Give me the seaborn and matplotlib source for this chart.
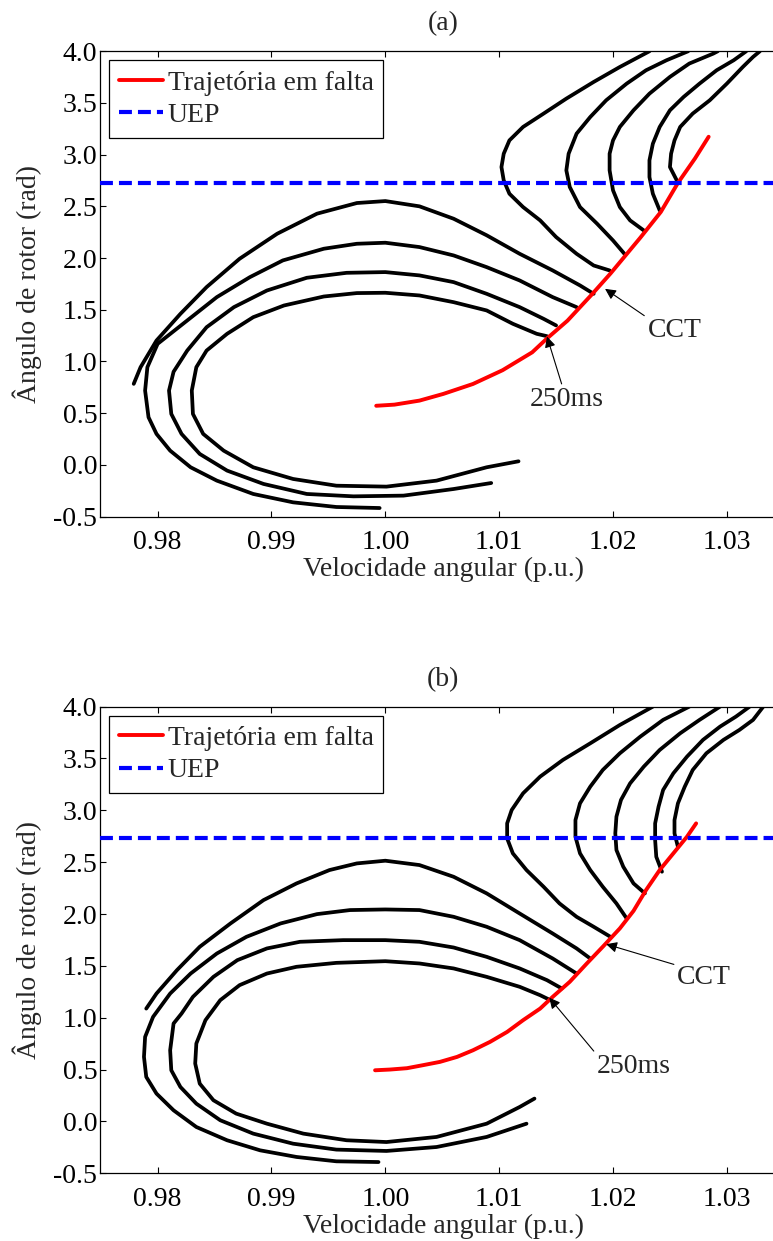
import matplotlib
matplotlib.use("Agg")
import matplotlib.pyplot as plt
from matplotlib.lines import Line2D
import pandas as pd
import seaborn as sns

sns.set_style("ticks")
plt.rcParams["font.family"] = ["Liberation Serif", "DejaVu Serif"]
plt.rcParams["axes.unicode_minus"] = False

# ---------------- data ----------------
UEP = 2.73
X_TICKS = [0.98, 0.99, 1.00, 1.01, 1.02, 1.03]
Y_TICKS = [-0.5, 0.0, 0.5, 1.0, 1.5, 2.0, 2.5, 3.0, 3.5, 4.0]
TITLES = ["(a)", "(b)"]
XLABEL = "Velocidade angular (p.u.)"
YLABEL = "Ângulo de rotor (rad)"
LEG_LABELS = ["Trajetória em falta", "UEP"]

# Panel (a): fault-on trajectory
A_FAULT_X = [0.9992, 1.0008, 1.0030, 1.0051, 1.0077, 1.0103, 1.0129, 1.0142, 1.0160,
             1.0181, 1.0198, 1.0211, 1.0224, 1.0242, 1.0257, 1.0272, 1.0284]
A_FAULT_Y = [0.571, 0.582, 0.621, 0.686, 0.782, 0.915, 1.088, 1.222, 1.394,
             1.643, 1.853, 2.025, 2.197, 2.446, 2.726, 2.963, 3.173]

# Panel (a): stable post-fault trajectories
A_S1_X = [1.0183, 1.0171, 1.0147, 1.0118, 1.0089, 1.0060, 1.0030, 1.0000, 0.9975, 0.9940,
          0.9905, 0.9872, 0.9843, 0.9820, 0.9799, 0.9785, 0.9779]
A_S1_Y = [1.654, 1.735, 1.880, 2.041, 2.220, 2.380, 2.500, 2.551, 2.532, 2.429,
          2.235, 1.993, 1.719, 1.460, 1.202, 0.944, 0.783]
A_S2_X = [1.0168, 1.0147, 1.0118, 1.0089, 1.0060, 1.0030, 1.0000, 0.9975, 0.9946, 0.9910,
          0.9881, 0.9852, 0.9826, 0.9800, 0.9791, 0.9789, 0.9792, 0.9799, 0.9811, 0.9829,
          0.9852, 0.9884, 0.9919, 0.9957, 0.9995]
A_S2_Y = [1.525, 1.622, 1.783, 1.912, 2.025, 2.106, 2.148, 2.138, 2.090, 1.977,
          1.815, 1.622, 1.396, 1.170, 0.944, 0.718, 0.460, 0.299, 0.137, -0.024,
          -0.153, -0.282, -0.363, -0.408, -0.418]
A_S3_X = [1.0150, 1.0139, 1.0118, 1.0089, 1.0060, 1.0030, 1.0000, 0.9966, 0.9931, 0.9896,
          0.9867, 0.9843, 0.9826, 0.9814, 0.9810, 0.9812, 0.9821, 0.9837, 0.9861, 0.9893,
          0.9931, 0.9972, 1.0016, 1.0060, 1.0093]
A_S3_Y = [1.348, 1.412, 1.525, 1.654, 1.767, 1.832, 1.864, 1.857, 1.809, 1.686,
          1.525, 1.331, 1.105, 0.900, 0.718, 0.492, 0.299, 0.105, -0.056, -0.185,
          -0.282, -0.305, -0.298, -0.234, -0.176]
A_S4_X = [1.0142, 1.0133, 1.0112, 1.0089, 1.0060, 1.0030, 1.0000, 0.9975, 0.9946, 0.9911,
          0.9884, 0.9861, 0.9843, 0.9834, 0.9830, 0.9831, 0.9840, 0.9858, 0.9884, 0.9919,
          0.9957, 1.0001, 1.0045, 1.0089, 1.0117]
A_S4_Y = [1.244, 1.267, 1.364, 1.493, 1.573, 1.638, 1.664, 1.661, 1.628, 1.541,
          1.428, 1.267, 1.105, 0.944, 0.718, 0.492, 0.299, 0.137, -0.024, -0.137,
          -0.202, -0.211, -0.153, -0.024, 0.034]

# Panel (a): unstable post-fault trajectories
A_U1_X = [1.0197, 1.0183, 1.0168, 1.0150, 1.0136, 1.0121, 1.0109, 1.0104, 1.0102, 1.0104,
          1.0109, 1.0121, 1.0139, 1.0159, 1.0183, 1.0206, 1.0232]
A_U1_Y = [1.880, 1.928, 2.041, 2.203, 2.364, 2.493, 2.622, 2.751, 2.880, 3.009,
          3.138, 3.268, 3.397, 3.542, 3.703, 3.848, 4.000]
A_U2_X = [1.0210, 1.0200, 1.0186, 1.0171, 1.0162, 1.0159, 1.0161, 1.0168, 1.0180, 1.0194,
          1.0212, 1.0229, 1.0247, 1.0266]
A_U2_Y = [2.041, 2.170, 2.332, 2.493, 2.687, 2.848, 3.009, 3.203, 3.364, 3.526,
          3.687, 3.816, 3.913, 4.000]
A_U3_X = [1.0227, 1.0215, 1.0206, 1.0200, 1.0197, 1.0197, 1.0200, 1.0206, 1.0218, 1.0232,
          1.0250, 1.0267, 1.0288, 1.0292]
A_U3_Y = [2.267, 2.364, 2.493, 2.655, 2.848, 3.009, 3.138, 3.268, 3.429, 3.590,
          3.752, 3.881, 3.977, 4.000]
A_U4_X = [1.0241, 1.0235, 1.0232, 1.0232, 1.0235, 1.0241, 1.0250, 1.0262, 1.0276, 1.0291,
          1.0306, 1.0317]
A_U4_Y = [2.461, 2.622, 2.783, 2.945, 3.106, 3.268, 3.429, 3.558, 3.687, 3.816,
          3.913, 4.000]
A_U5_X = [1.0256, 1.0250, 1.0251, 1.0254, 1.0259, 1.0270, 1.0285, 1.0300, 1.0314, 1.0323,
          1.0329]
A_U5_Y = [2.751, 2.880, 3.009, 3.138, 3.268, 3.397, 3.526, 3.687, 3.848, 3.945,
          4.000]

# Panel (b): fault-on trajectory
B_FAULT_X = [0.9991, 1.0004, 1.0019, 1.0033, 1.0048, 1.0063, 1.0077, 1.0092, 1.0107, 1.0121,
             1.0136, 1.0147, 1.0162, 1.0177, 1.0191, 1.0206, 1.0218, 1.0229, 1.0241, 1.0253,
             1.0265, 1.0273]
B_FAULT_Y = [0.493, 0.500, 0.513, 0.542, 0.574, 0.622, 0.686, 0.767, 0.863, 0.976,
             1.088, 1.201, 1.346, 1.523, 1.684, 1.861, 2.030, 2.231, 2.424, 2.585,
             2.746, 2.874]

# Panel (b): stable post-fault trajectories
B_S1_X = [1.0180, 1.0168, 1.0147, 1.0118, 1.0089, 1.0060, 1.0030, 1.0000, 0.9975, 0.9951,
          0.9922, 0.9893, 0.9864, 0.9837, 0.9817, 0.9799, 0.9790]
B_S1_Y = [1.571, 1.668, 1.812, 2.005, 2.199, 2.359, 2.472, 2.514, 2.488, 2.424,
          2.295, 2.134, 1.909, 1.684, 1.459, 1.233, 1.088]
B_S2_X = [1.0168, 1.0147, 1.0118, 1.0089, 1.0060, 1.0030, 1.0000, 0.9969, 0.9940, 0.9908,
          0.9878, 0.9852, 0.9829, 0.9811, 0.9796, 0.9789, 0.9788, 0.9790, 0.9799, 0.9814,
          0.9834, 0.9861, 0.9890, 0.9922, 0.9957, 0.9994]
B_S2_Y = [1.426, 1.571, 1.748, 1.877, 1.973, 2.038, 2.044, 2.038, 1.999, 1.909,
          1.780, 1.619, 1.426, 1.233, 1.008, 0.815, 0.622, 0.429, 0.268, 0.107,
          -0.054, -0.182, -0.279, -0.343, -0.385, -0.392]
B_S3_X = [1.0155, 1.0142, 1.0118, 1.0089, 1.0060, 1.0030, 1.0000, 0.9963, 0.9925, 0.9896,
          0.9870, 0.9849, 0.9831, 0.9821, 0.9814, 0.9811, 0.9812, 0.9820, 0.9834, 0.9855,
          0.9884, 0.9919, 0.9957, 1.0001, 1.0045, 1.0089, 1.0124]
B_S3_Y = [1.282, 1.362, 1.475, 1.587, 1.677, 1.732, 1.748, 1.748, 1.732, 1.668,
          1.555, 1.394, 1.201, 1.040, 0.944, 0.686, 0.493, 0.332, 0.171, 0.011,
          -0.118, -0.215, -0.272, -0.285, -0.247, -0.150, -0.022]
B_S4_X = [1.0145, 1.0136, 1.0118, 1.0089, 1.0060, 1.0030, 1.0000, 0.9957, 0.9922, 0.9896,
          0.9872, 0.9855, 0.9842, 0.9834, 0.9833, 0.9837, 0.9849, 0.9869, 0.9896, 0.9928,
          0.9966, 1.0001, 1.0045, 1.0089, 1.0118, 1.0131]
B_S4_Y = [1.169, 1.217, 1.298, 1.394, 1.475, 1.523, 1.545, 1.529, 1.491, 1.426,
          1.314, 1.169, 0.976, 0.751, 0.558, 0.364, 0.204, 0.075, -0.022, -0.118,
          -0.182, -0.199, -0.150, -0.022, 0.139, 0.220]

# Panel (b): unstable post-fault trajectories
B_U1_X = [1.0197, 1.0183, 1.0168, 1.0153, 1.0139, 1.0124, 1.0112, 1.0107, 1.0107, 1.0111,
          1.0121, 1.0136, 1.0156, 1.0180, 1.0206, 1.0235]
B_U1_Y = [1.785, 1.877, 1.973, 2.102, 2.263, 2.424, 2.585, 2.729, 2.874, 3.003,
          3.164, 3.325, 3.486, 3.646, 3.823, 4.000]
B_U2_X = [1.0212, 1.0203, 1.0191, 1.0180, 1.0171, 1.0167, 1.0167, 1.0171, 1.0180, 1.0191,
          1.0206, 1.0224, 1.0244, 1.0267]
B_U2_Y = [1.957, 2.102, 2.263, 2.424, 2.585, 2.745, 2.906, 3.067, 3.228, 3.389,
          3.550, 3.711, 3.872, 4.000]
B_U3_X = [1.0228, 1.0218, 1.0209, 1.0203, 1.0202, 1.0203, 1.0207, 1.0215, 1.0227, 1.0241,
          1.0259, 1.0276, 1.0294]
B_U3_Y = [2.199, 2.295, 2.456, 2.617, 2.778, 2.939, 3.100, 3.260, 3.421, 3.582,
          3.743, 3.872, 4.000]
B_U4_X = [1.0243, 1.0238, 1.0237, 1.0237, 1.0240, 1.0244, 1.0253, 1.0265, 1.0279, 1.0294,
          1.0308, 1.0320]
B_U4_Y = [2.408, 2.552, 2.713, 2.874, 3.035, 3.196, 3.357, 3.518, 3.679, 3.807,
          3.904, 4.000]
B_U5_X = [1.0257, 1.0254, 1.0254, 1.0257, 1.0263, 1.0270, 1.0282, 1.0297, 1.0311, 1.0323,
          1.0332]
B_U5_Y = [2.649, 2.778, 2.906, 3.067, 3.228, 3.389, 3.550, 3.679, 3.775, 3.872,
          4.000]

# Annotations: label, text position, arrow tip
ANNOT_LABELS = ["CCT", "250ms"]
A_ANNOT_TEXT = [(1.0254, 1.30), (1.0159, 0.63)]
A_ANNOT_TIP = [(1.0193, 1.702), (1.0142, 1.241)]
B_ANNOT_TEXT = [(1.0280, 1.384), (1.0218, 0.526)]
B_ANNOT_TIP = [(1.0194, 1.709), (1.0144, 1.193)]

PANELS = [
    dict(fault=(A_FAULT_X, A_FAULT_Y),
         curves=[(A_S1_X, A_S1_Y), (A_S2_X, A_S2_Y), (A_S3_X, A_S3_Y), (A_S4_X, A_S4_Y),
                 (A_U1_X, A_U1_Y), (A_U2_X, A_U2_Y), (A_U3_X, A_U3_Y), (A_U4_X, A_U4_Y),
                 (A_U5_X, A_U5_Y)],
         text=A_ANNOT_TEXT, tip=A_ANNOT_TIP),
    dict(fault=(B_FAULT_X, B_FAULT_Y),
         curves=[(B_S1_X, B_S1_Y), (B_S2_X, B_S2_Y), (B_S3_X, B_S3_Y), (B_S4_X, B_S4_Y),
                 (B_U1_X, B_U1_Y), (B_U2_X, B_U2_Y), (B_U3_X, B_U3_Y), (B_U4_X, B_U4_Y),
                 (B_U5_X, B_U5_Y)],
         text=B_ANNOT_TEXT, tip=B_ANNOT_TIP),
]

# ---------------- figure ----------------
FS = 20
fig = plt.figure(figsize=(7.73, 12.41), dpi=100)
axes_rects = [[0.1294, 0.5838, 0.8875, 0.3749],
              [0.1294, 0.0546, 0.8875, 0.3760]]

dash = (0, (3.1, 1.45))
for i, (panel, rect) in enumerate(zip(PANELS, axes_rects)):
    ax = fig.add_axes(rect)
    for cx, cy in panel["curves"]:
        df = pd.DataFrame({"x": cx, "y": cy})
        sns.lineplot(data=df, x="x", y="y", sort=False, estimator=None, ax=ax,
                     color="black", linewidth=2.7, zorder=2)
    fx, fy = panel["fault"]
    dff = pd.DataFrame({"x": fx, "y": fy})
    sns.lineplot(data=dff, x="x", y="y", sort=False, estimator=None, ax=ax,
                 color="#ff0000", linewidth=2.8, zorder=3)
    ax.axhline(UEP, color="#0000ff", linewidth=3.0, linestyle=dash, zorder=4)

    for lab, txy, tip in zip(ANNOT_LABELS, panel["text"], panel["tip"]):
        relpos = (0.0, 1.0) if lab == "CCT" else ((0.45, 1.0) if i == 0 else (0.0, 1.0))
        ax.annotate(lab, xy=tip, xytext=txy, ha="center", va="center", fontsize=FS,
                    arrowprops=dict(arrowstyle="-|>", color="black", lw=0.8,
                                    mutation_scale=16, shrinkA=0, shrinkB=0,
                                    relpos=relpos), zorder=6)

    ax.set_xlim(0.97494, 1.0352)
    ax.set_ylim(-0.5, 4.0)
    ax.set_xticks(X_TICKS)
    ax.set_xticklabels([f"{v:.2f}" for v in X_TICKS])
    ax.set_yticks(Y_TICKS)
    ax.set_yticklabels([f"{v:.1f}" for v in Y_TICKS])
    ax.tick_params(axis="both", direction="in", length=4.5, width=0.8,
                   labelsize=FS, top=True, right=False, colors="black")
    ax.tick_params(axis="x", pad=10)
    ax.tick_params(axis="y", pad=2)
    for s in ["left", "bottom", "top"]:
        ax.spines[s].set_visible(True)
        ax.spines[s].set_color("black")
        ax.spines[s].set_linewidth(0.9)
    ax.spines["right"].set_visible(False)
    ax.set_xlabel(XLABEL, fontsize=FS, labelpad=1)
    ax.set_ylabel(YLABEL, fontsize=FS, labelpad=8)
    ax.set_title(TITLES[i], fontsize=FS, pad=15)

    handles = [Line2D([], [], color="#ff0000", linewidth=2.8),
               Line2D([], [], color="#0000ff", linewidth=3.0, linestyle=dash)]
    leg = ax.legend(handles, LEG_LABELS, loc="upper left", fontsize=FS,
                    frameon=True, fancybox=False, framealpha=1, edgecolor="black",
                    borderpad=0.35, handlelength=1.6, handletextpad=0.15,
                    labelspacing=0.25, borderaxespad=0.33)
    leg.get_frame().set_linewidth(0.9)
    leg.set_zorder(10)

fig.savefig("out.png", dpi=100)
